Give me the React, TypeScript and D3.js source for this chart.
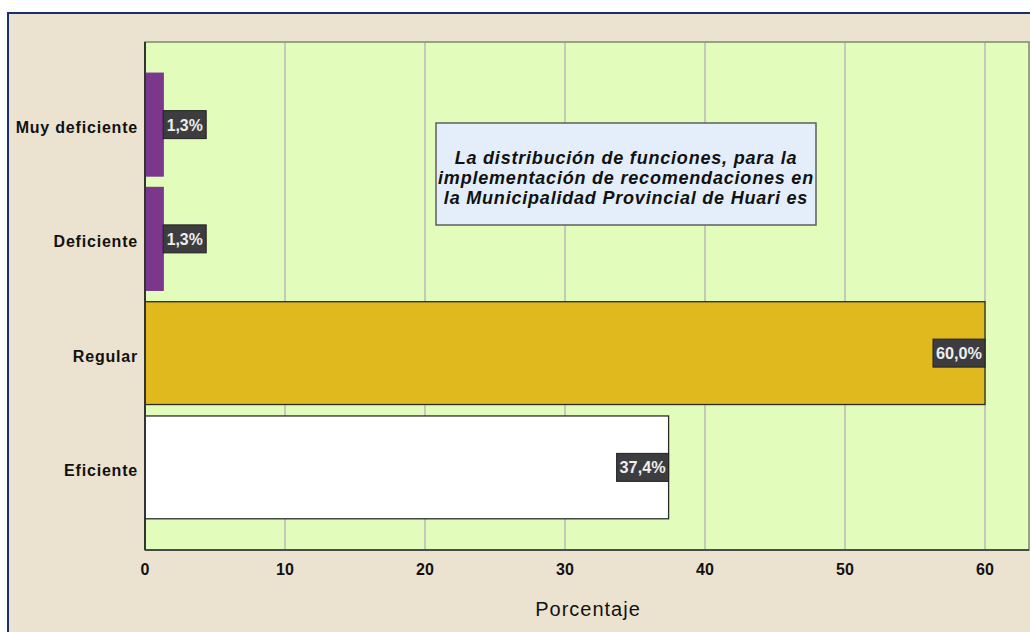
import React, { useEffect, useRef } from 'react';
import * as d3 from 'd3';

// Chart data
const categories = ['Muy deficiente', 'Deficiente', 'Regular', 'Eficiente'];
const percentages = [1.3, 1.3, 60.0, 37.4];
const barColors = ['#7a378b', '#7a378b', '#e0b91f', '#ffffff'];
const tickValues = [0, 10, 20, 30, 40, 50, 60];
const titleLines = [
  'La distribución de funciones, para la',
  'implementación de recomendaciones en',
  'la Municipalidad Provincial de Huari es',
];

const App = () => {
  const svgRef = useRef<SVGSVGElement>(null);

  useEffect(() => {
    if (!svgRef.current) return;
    const svg = d3.select(svgRef.current);
    svg.selectAll('*').remove();

    const width = 1030;
    const height = 632;
    const plot = { left: 145, top: 42, right: 1029, bottom: 550 };
    const font = '"Liberation Sans", Arial, sans-serif';

    // Outer background and frame
    svg.append('rect').attr('width', width).attr('height', height).attr('fill', '#ffffff');
    svg.append('rect')
      .attr('x', 8).attr('y', 13)
      .attr('width', width).attr('height', height)
      .attr('fill', '#ebe3cf')
      .attr('stroke', '#1b2f6e')
      .attr('stroke-width', 2);

    const x = d3.scaleLinear().domain([0, 60]).range([plot.left, plot.left + 60 * 14]);
    const y = d3.scaleBand()
      .domain(categories)
      .range([67.5, 524.5])
      .paddingInner(0.1)
      .paddingOuter(0.05);

    // Plot area
    svg.append('rect')
      .attr('x', plot.left).attr('y', plot.top)
      .attr('width', plot.right - plot.left)
      .attr('height', plot.bottom - plot.top)
      .attr('fill', '#e2fcbb')
      .attr('stroke', '#7d8a6a')
      .attr('stroke-width', 1.5);

    // Gridlines
    svg.append('g')
      .selectAll('line')
      .data(tickValues.filter(d => d > 0))
      .enter()
      .append('line')
      .attr('x1', d => x(d)).attr('x2', d => x(d))
      .attr('y1', plot.top + 1).attr('y2', plot.bottom)
      .attr('stroke', '#c4c9bb')
      .attr('stroke-width', 2);

    // Bars
    svg.append('g')
      .selectAll('rect')
      .data(percentages)
      .enter()
      .append('rect')
      .attr('x', x(0))
      .attr('y', (d, i) => y(categories[i]) as number)
      .attr('width', d => x(d) - x(0))
      .attr('height', y.bandwidth())
      .attr('fill', (d, i) => barColors[i])
      .attr('stroke', (d, i) => (i < 2 ? barColors[i] : '#2b2b2b'))
      .attr('stroke-width', 1.3);

    // Value labels (inside the bar end, or just outside for tiny bars)
    const isSmall = (d: number) => x(d) - x(0) < 62;
    const boxW = (d: number) => (isSmall(d) ? 43 : 52);
    const labelH = 28;
    const labels = svg.append('g')
      .selectAll('g')
      .data(percentages)
      .enter()
      .append('g')
      .attr('transform', (d, i) => {
        const cy = (y(categories[i]) as number) + y.bandwidth() / 2;
        const lx = isSmall(d) ? x(d) : x(d) - boxW(d);
        return `translate(${lx},${cy - labelH / 2})`;
      });
    labels.append('rect')
      .attr('width', d => boxW(d))
      .attr('height', labelH)
      .attr('fill', '#3d3d3f')
      .attr('stroke', '#222')
      .attr('stroke-width', 1);
    labels.append('text')
      .attr('x', d => boxW(d) / 2)
      .attr('y', labelH / 2)
      .attr('dy', '0.36em')
      .attr('text-anchor', 'middle')
      .attr('fill', '#eeeeee')
      .attr('font-family', font)
      .attr('font-weight', 'bold')
      .attr('font-size', '17px')
      .attr('textLength', d => (isSmall(d) ? 36 : 46))
      .attr('lengthAdjust', 'spacingAndGlyphs')
      .text(d => `${d.toFixed(1).replace('.', ',')}%`);

    // Axis lines
    svg.append('line')
      .attr('x1', plot.left).attr('x2', plot.left)
      .attr('y1', plot.top).attr('y2', plot.bottom)
      .attr('stroke', '#333').attr('stroke-width', 2);
    svg.append('line')
      .attr('x1', plot.left).attr('x2', plot.right)
      .attr('y1', plot.bottom).attr('y2', plot.bottom)
      .attr('stroke', '#4a4a4a').attr('stroke-width', 2);

    // Category labels
    svg.append('g')
      .selectAll('text')
      .data(categories)
      .enter()
      .append('text')
      .attr('x', 138)
      .attr('y', d => (y(d) as number) + y.bandwidth() / 2 + 3)
      .attr('dy', '0.35em')
      .attr('text-anchor', 'end')
      .attr('font-family', font)
      .attr('font-weight', 'bold')
      .attr('font-size', '16px')
      .attr('letter-spacing', '0.8px')
      .attr('fill', '#111')
      .text(d => d);

    // Tick labels
    svg.append('g')
      .selectAll('text')
      .data(tickValues)
      .enter()
      .append('text')
      .attr('x', d => x(d))
      .attr('y', 575)
      .attr('text-anchor', 'middle')
      .attr('font-family', font)
      .attr('font-weight', 'bold')
      .attr('font-size', '16px')
      .attr('fill', '#111')
      .text(d => d);

    // Axis title
    svg.append('text')
      .attr('x', 588)
      .attr('y', 616)
      .attr('text-anchor', 'middle')
      .attr('font-family', font)
      .attr('font-size', '20px')
      .attr('letter-spacing', '1px')
      .attr('fill', '#111')
      .text('Porcentaje');

    // Title box
    svg.append('rect')
      .attr('x', 436).attr('y', 123)
      .attr('width', 380).attr('height', 102)
      .attr('fill', '#e4eefb')
      .attr('stroke', '#5e5e5e')
      .attr('stroke-width', 1.5);
    svg.append('g')
      .selectAll('text')
      .data(titleLines)
      .enter()
      .append('text')
      .attr('x', 626)
      .attr('y', (d, i) => 164 + i * 20)
      .attr('text-anchor', 'middle')
      .attr('font-family', font)
      .attr('font-weight', 'bold')
      .attr('font-style', 'italic')
      .attr('font-size', '18px')
      .attr('letter-spacing', '0.8px')
      .attr('fill', '#111')
      .text(d => d);
  }, []);

  return (
    <div style={{ position: 'absolute', left: 0, top: 0, width: 1030, height: 632, overflow: 'hidden' }}>
      <svg ref={svgRef} width={1030} height={632} style={{ display: 'block' }} />
    </div>
  );
};

export default App;
